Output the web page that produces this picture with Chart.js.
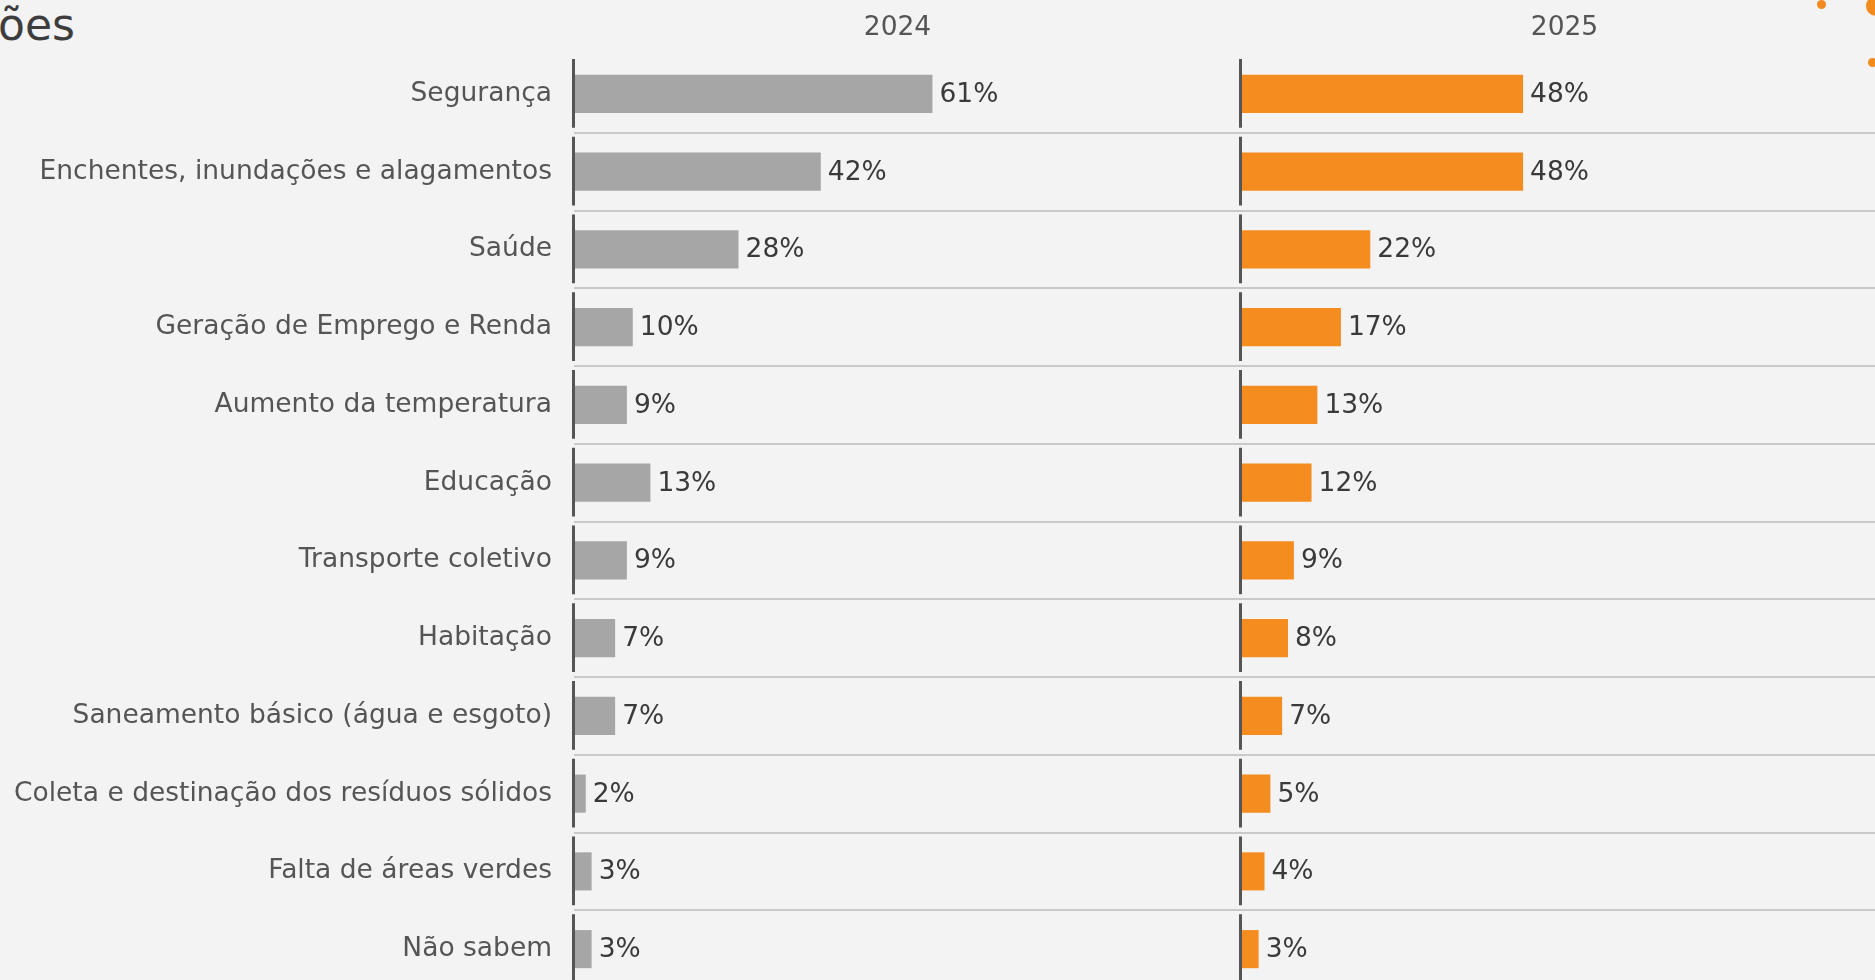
<!DOCTYPE html>
<html>
<head>
<meta charset="utf-8">
<script src="https://cdn.jsdelivr.net/npm/chart.js@4.4.1/dist/chart.umd.min.js"></script>
<style>
  html, body { margin:0; padding:0; width:1875px; height:980px; overflow:hidden; background:#f3f3f3; font-family:"DejaVu Sans", Verdana, sans-serif; }
  .panel { position:absolute; top:0; height:1000px; }
  #leftBox { left:0; width:1241px; }
  #rightBox { left:1237px; width:671px; }
  .title { position:absolute; left:-2px; top:3px; font-size:44px; line-height:1; color:#3d3d3d; white-space:nowrap; }
  .dot { position:absolute; border-radius:50%; background:#f28a1e; }
</style>
</head>
<body>
<div class="title">ões</div>
<div class="dot" style="left:1817px;top:0px;width:9px;height:9px;"></div>
<div class="dot" style="left:1866px;top:-4px;width:20px;height:20px;"></div>
<div class="dot" style="left:1868px;top:58px;width:9px;height:9px;"></div>
<div class="panel" id="leftBox"><canvas id="chart2024"></canvas></div>
<div class="panel" id="rightBox"><canvas id="chart2025"></canvas></div>
<script>
// Preocupações - 2024 x 2025
const categories = [
    "Segurança",
    "Enchentes, inundações e alagamentos",
    "Saúde",
    "Geração de Emprego e Renda",
    "Aumento da temperatura",
    "Educação",
    "Transporte coletivo",
    "Habitação",
    "Saneamento básico (água e esgoto)",
    "Coleta e destinação dos resíduos sólidos",
    "Falta de áreas verdes",
    "Não sabem"
];
const years = ["2024", "2025"];
const values2024 = [61, 42, 28, 10, 9, 13, 9, 7, 7, 2, 3, 3];
const values2025 = [48, 48, 22, 17, 13, 12, 9, 8, 7, 5, 4, 3];

Chart.defaults.font.family = "'DejaVu Sans', Verdana, sans-serif";

// axis segments, value labels and year header
const panelDecor = {
    id: "panelDecor",
    afterDatasetsDraw(chart, args, opts) {
        const {ctx, chartArea} = chart;
        const y = chart.scales.y;
        const half = (y.getPixelForValue(1) - y.getPixelForValue(0)) / 2;
        ctx.save();
        ctx.strokeStyle = "#555555";
        ctx.lineWidth = 3;
        categories.forEach((c, i) => {
            const cy = y.getPixelForValue(i);
            ctx.beginPath();
            ctx.moveTo(chartArea.left - 0.5, cy - half + 4);
            ctx.lineTo(chartArea.left - 0.5, cy + half - 5);
            ctx.stroke();
        });
        ctx.font = "26.5px 'DejaVu Sans'";
        ctx.fillStyle = "#3a3a3a";
        ctx.textBaseline = "middle";
        ctx.textAlign = "left";
        const data = chart.data.datasets[0].data;
        chart.getDatasetMeta(0).data.forEach((bar, i) => {
            ctx.fillText(data[i] + "%", bar.x + 7, bar.y + 1);
        });
        ctx.fillStyle = "#555555";
        ctx.textAlign = "center";
        ctx.fillText(opts.header, chartArea.left + (chartArea.width - 20) / 2, 28);
        ctx.restore();
    }
};

const makePanel = (el, year, values, color, showLabels) => {
    new Chart(el, {
        type: "bar",
        data: {
            labels: categories,
            datasets: [{
                label: year,
                data: values,
                backgroundColor: color,
                barPercentage: 0.49,
                categoryPercentage: 1,
            }],
        },
        options: {
            indexAxis: "y",
            responsive: true,
            maintainAspectRatio: false,
            animation: false,
            layout: { autoPadding: false, padding: { top: 55, bottom: 12, left: showLabels ? 0 : 4, right: 0 } },
            plugins: {
                legend: { display: false },
                tooltip: { enabled: false },
                panelDecor: { header: year },
            },
            scales: {
                x: { display: false, min: 0, max: 113.5 },
                y: {
                    grid: {
                        offset: true,
                        drawTicks: false,
                        lineWidth: 2,
                        color: (c) => c.index === 0 ? "rgba(0,0,0,0)" : "#c9c9c9",
                    },
                    border: { display: false },
                    ticks: {
                        display: showLabels,
                        padding: 22,
                        color: "#555555",
                        font: { size: 26.5 },
                    },
                    afterFit: (s) => {
                        s.width = showLabels ? 574 : 0;
                        s.paddingTop = 0;
                        s.paddingBottom = 0;
                    },
                },
            },
        },
        plugins: [panelDecor],
    });
};

makePanel(document.getElementById("chart2024"), years[0], values2024, "#a6a6a6", true);
makePanel(document.getElementById("chart2025"), years[1], values2025, "#f48c20", false);
</script>
</body>
</html>
